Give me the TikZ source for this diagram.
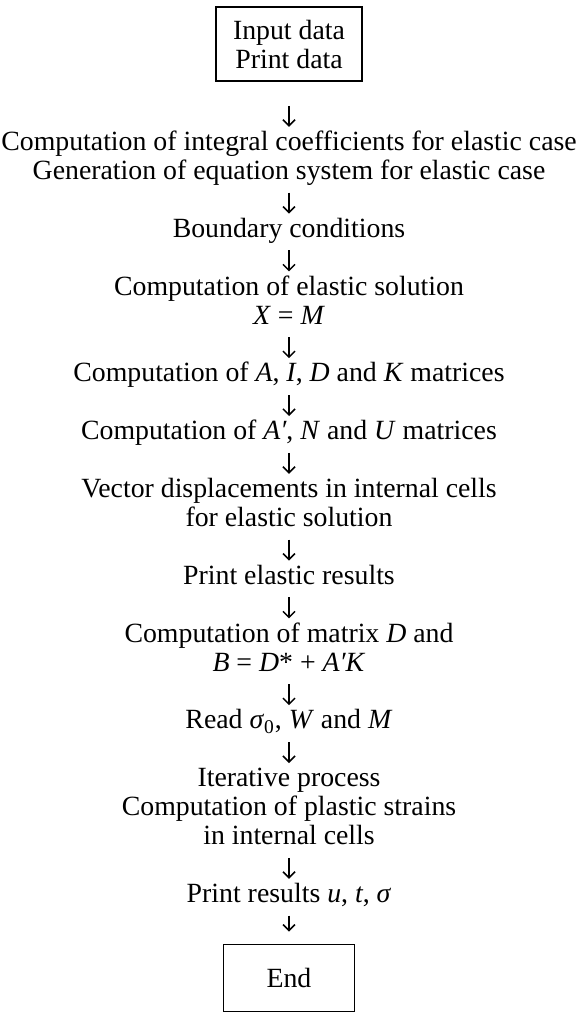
\documentclass[tikz,border=0pt]{standalone}
\usepackage{fontspec}
\setmainfont{Liberation Serif}
\usetikzlibrary{arrows.meta,positioning}
\newcommand{\stepfont}{\fontsize{13.9}{14.5}\selectfont}
\newcommand{\vr}[1]{\textit{#1}}
\tikzset{
  termbox/.style={draw, line width=0.8pt, minimum width=73pt, minimum height=37pt,
    inner sep=0pt, align=center, font=\stepfont},
  steptext/.style={inner sep=0pt, align=center, font=\stepfont},
  flow/.style={-{Straight Barb[length=3pt, width=6pt]}, line width=0.75pt,
    shorten >=1.5pt, shorten <=2pt},
}

\begin{document}
\begin{tikzpicture}[x=0.5pt, y=0.5pt, node distance=14pt]
\useasboundingbox (0,0) rectangle (582,-1016);

% Elastic part.
\node[termbox] (input) at (289,-44) {Input data\\Print data};
\node[steptext, below=24pt of input] (coef) {\strut Computation of integral coefficients for elastic case\\Generation of equation system for elastic case\strut};
\node[steptext, below=of coef] (bound) {\strut Boundary conditions};
\node[steptext, below=of bound] (elsol) {\strut Computation of elastic solution\\\vr{X} = \vr{M}\strut};
\node[steptext, below=of elsol] (aidk) {\strut Computation of \vr{A}, \vr{I}, \vr{D} and \vr{K} matrices};
\node[steptext, below=of aidk] (anu) {\strut Computation of \vr{A′}, \vr{N} and \vr{U} matrices};
\node[steptext, below=of anu] (disp) {\strut Vector displacements in internal cells\\for elastic solution\strut};
\node[steptext, below=of disp] (elres) {\strut Print elastic results};

% Plastic part.
\node[steptext, below=of elres] (matd) {\strut Computation of matrix \vr{D} and\\\vr{B} = \vr{D}* + \vr{A′K}\strut};
\node[steptext, below=of matd] (read) {\strut Read \vr{σ}\textsubscript{0}, \vr{W} and \vr{M}};
\node[steptext, below=of read] (iter) {\strut Iterative process\\Computation of plastic strains\\in internal cells\strut};
\node[steptext, below=of iter] (results) {\strut Print results \vr{u}, \vr{t}, \vr{σ}};
\node[termbox, minimum width=65.5pt, minimum height=33.5pt, below=16pt of results] (end) {End};

\draw[flow, shorten <=12pt] (input) -- (coef);
\draw[flow] (coef) -- (bound);
\draw[flow] (bound) -- (elsol);
\draw[flow] (elsol) -- (aidk);
\draw[flow] (aidk) -- (anu);
\draw[flow] (anu) -- (disp);
\draw[flow] (disp) -- (elres);
\draw[flow] (elres) -- (matd);
\draw[flow] (matd) -- (read);
\draw[flow] (read) -- (iter);
\draw[flow] (iter) -- (results);
\draw[flow, shorten >=6pt] (results) -- (end);

\end{tikzpicture}
\end{document}
